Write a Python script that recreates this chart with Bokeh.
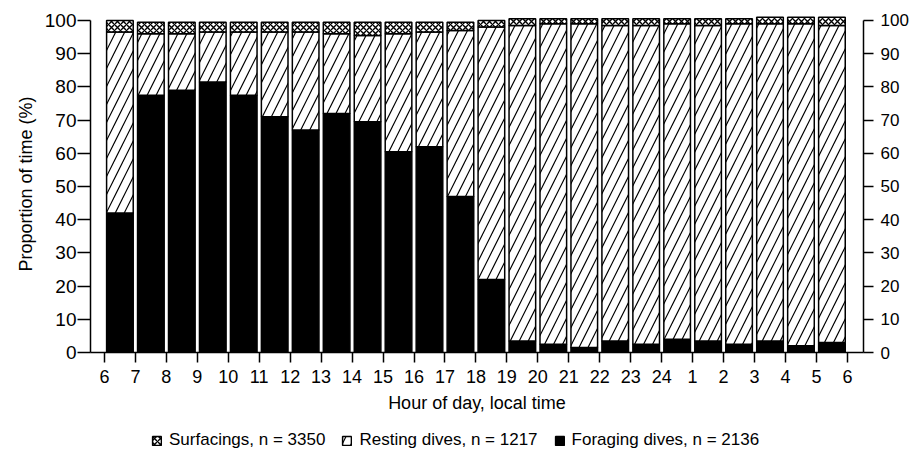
import numpy as np
from bokeh.plotting import figure
from bokeh.layouts import column
from bokeh.models import (ColumnDataSource, Range1d, LinearAxis, FixedTicker,
                          Legend, LegendItem)
from bokeh.embed import file_html
from bokeh.resources import INLINE

# ---- data ----
hour_labels = ["6", "7", "8", "9", "10", "11", "12", "13", "14", "15", "16",
               "17", "18", "19", "20", "21", "22", "23", "24", "1", "2", "3",
               "4", "5", "6"]
foraging = [42, 77.5, 79, 81.5, 77.5, 71, 67, 72, 69.5, 60.5, 62, 47, 22,
            3.5, 2.5, 1.5, 3.5, 2.5, 4, 3.5, 2.5, 3.5, 2, 3]
resting = [54.5, 18.5, 17, 15, 19, 25.5, 29.5, 24, 26, 35.5, 34.5, 50, 76,
           95, 96.5, 97.5, 95, 96, 95, 95, 96.5, 95.5, 97, 95.5]
surfacing = [3.5, 3.5, 3.5, 3, 3, 3, 3, 3.5, 4, 3.5, 3, 2.5, 2,
             2, 1.5, 1.5, 2, 2, 1.5, 2, 1.5, 2, 2, 2.5]
legend_labels = ["Surfacings, n = 3350", "Resting dives, n = 1217",
                 "Foraging dives, n = 2136"]
y_ticks = [0, 10, 20, 30, 40, 50, 60, 70, 80, 90, 100]

FONT = "Liberation Sans"

n = len(foraging)
x = np.arange(n) + 0.5
f = np.array(foraging, dtype=float)
r = np.array(resting, dtype=float)
s = np.array(surfacing, dtype=float)
src = ColumnDataSource(dict(x=x, f0=np.zeros(n), f1=f, r1=f + r, s1=f + r + s))

p = figure(width=922, height=418, output_backend="svg", toolbar_location=None,
           x_range=Range1d(-0.45, 24.52), y_range=Range1d(0, 101.5),
           min_border_left=90, min_border_right=59, min_border_top=15,
           min_border_bottom=66, x_axis_location=None, y_axis_location=None)
p.outline_line_color = None
p.xgrid.visible = False
p.ygrid.visible = False
p.background_fill_color = "white"
p.border_fill_color = "white"

W = 0.86
FOR = dict(fill_color="black", line_color="black", line_width=1.5)
RES = dict(fill_color="white", line_color="black", line_width=1.5,
           hatch_pattern="/", hatch_scale=18, hatch_weight=1.2, hatch_color="black")
SUR = dict(fill_color="white", line_color="black", line_width=1.5,
           hatch_pattern="x", hatch_scale=6, hatch_weight=1.4, hatch_color="black")

p.vbar(x="x", bottom="f0", top="f1", width=W, source=src, **FOR)
p.vbar(x="x", bottom="f1", top="r1", width=W, source=src, **RES)
p.vbar(x="x", bottom="r1", top="s1", width=W, source=src, **SUR)


def style_axis(ax, size):
    ax.major_tick_in = 0
    ax.minor_tick_line_color = None
    ax.major_label_text_font = FONT
    ax.major_label_text_font_size = size
    ax.major_label_text_color = "black"
    ax.axis_label_text_font = FONT
    ax.axis_label_text_font_style = "normal"
    ax.axis_label_text_color = "black"
    ax.axis_line_width = 1.5
    ax.major_tick_line_width = 1.5
    ax.axis_line_color = "black"
    ax.major_tick_line_color = "black"


# bottom axis
xa = LinearAxis(ticker=FixedTicker(ticks=list(range(len(hour_labels)))),
                major_label_overrides={i: l for i, l in enumerate(hour_labels)},
                axis_label="Hour of day, local time")
style_axis(xa, "18px")
xa.major_tick_out = 10
xa.major_label_standoff = 7
xa.axis_label_text_font_size = "18px"
xa.axis_label_standoff = 7
p.add_layout(xa, "below")

# left axis
ya = LinearAxis(ticker=FixedTicker(ticks=y_ticks), bounds=(0, 100),
                axis_label="Proportion of time (%)")
style_axis(ya, "19px")
ya.major_tick_out = 13
ya.major_label_standoff = 1
ya.axis_label_text_font_size = "18px"
ya.axis_label_standoff = 6
p.add_layout(ya, "left")

# right axis
ya2 = LinearAxis(ticker=FixedTicker(ticks=y_ticks), bounds=(0, 100))
style_axis(ya2, "17px")
ya2.major_tick_out = 10
ya2.major_label_standoff = 7
p.add_layout(ya2, "right")

# legend strip
leg = figure(width=922, height=34, output_backend="svg", toolbar_location=None,
             x_range=Range1d(0, 1), y_range=Range1d(0, 1),
             min_border=0, x_axis_location=None, y_axis_location=None)
leg.outline_line_color = None
leg.xgrid.visible = False
leg.ygrid.visible = False
hidden = ColumnDataSource(dict(x=[0.5], b=[np.nan], t=[np.nan]))
ls = leg.vbar(x="x", bottom="b", top="t", width=0.1, source=hidden, **SUR)
lr = leg.vbar(x="x", bottom="b", top="t", width=0.1, source=hidden, **RES)
lf = leg.vbar(x="x", bottom="b", top="t", width=0.1, source=hidden, **FOR)
legend = Legend(items=[LegendItem(label=legend_labels[0], renderers=[ls]),
                       LegendItem(label=legend_labels[1], renderers=[lr]),
                       LegendItem(label=legend_labels[2], renderers=[lf])],
                orientation="horizontal", location=(61, 2))
legend.label_text_font = FONT
legend.label_text_font_size = "17px"
legend.label_text_color = "black"
legend.glyph_width = 11
legend.glyph_height = 11
legend.label_standoff = 7
legend.spacing = 16
legend.padding = 2
legend.margin = 0
legend.border_line_color = None
legend.background_fill_alpha = 0
leg.add_layout(legend)

layout = column(p, leg, spacing=0)
open("out.html", "w").write(file_html(layout, INLINE))
